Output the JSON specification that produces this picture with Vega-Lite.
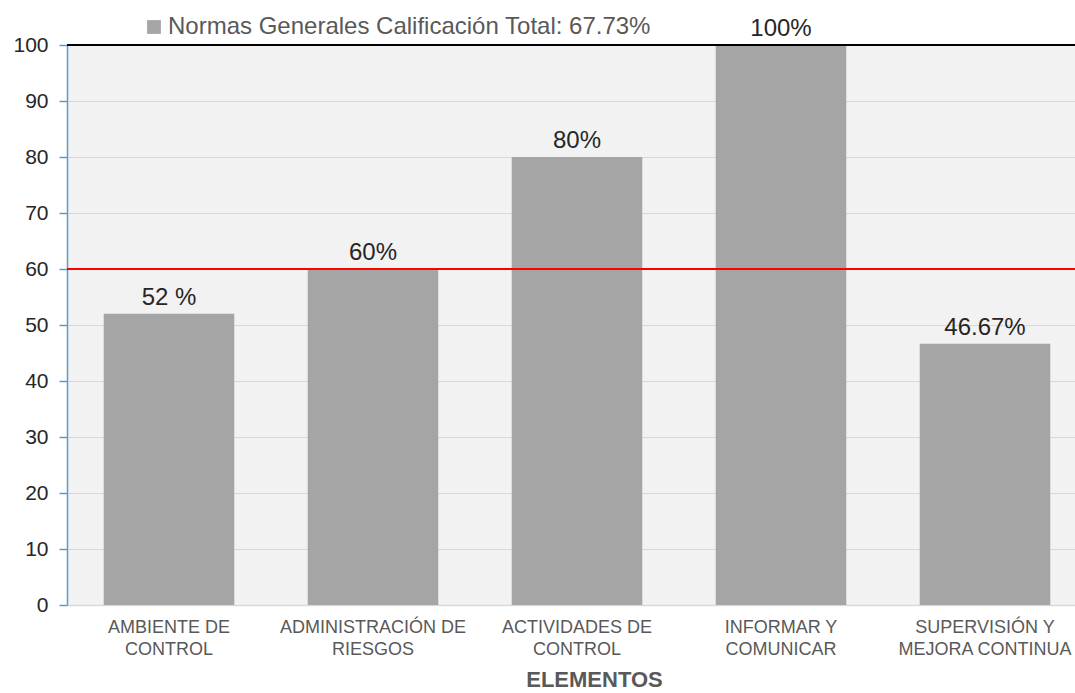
{
  "$schema": "https://vega.github.io/schema/vega-lite/v6.json",
  "width": 1020,
  "height": 560,
  "autosize": {"type": "none"},
  "padding": {"left": 67, "top": 45, "right": 0, "bottom": 88},
  "background": "white",
  "config": {
    "font": "Liberation Sans",
    "view": {"fill": "#f2f2f2", "stroke": null}
  },
  "data": {
    "values": [
      {"elemento": "AMBIENTE DE|CONTROL", "valor": 52, "etiqueta": "52 %", "serie": "Normas Generales Calificación Total: 67.73%"},
      {"elemento": "ADMINISTRACIÓN DE|RIESGOS", "valor": 60, "etiqueta": "60%", "serie": "Normas Generales Calificación Total: 67.73%"},
      {"elemento": "ACTIVIDADES DE|CONTROL", "valor": 80, "etiqueta": "80%", "serie": "Normas Generales Calificación Total: 67.73%"},
      {"elemento": "INFORMAR Y|COMUNICAR", "valor": 100, "etiqueta": "100%", "serie": "Normas Generales Calificación Total: 67.73%"},
      {"elemento": "SUPERVISIÓN Y|MEJORA CONTINUA", "valor": 46.67, "etiqueta": "46.67%", "serie": "Normas Generales Calificación Total: 67.73%"}
    ]
  },
  "encoding": {
    "x": {
      "field": "elemento",
      "type": "nominal",
      "sort": null,
      "scale": {"paddingInner": 0.36, "paddingOuter": 0.18},
      "axis": {
        "title": "ELEMENTOS",
        "titleFontSize": 22,
        "titleFontWeight": "bold",
        "titleColor": "#595959",
        "titlePadding": 11,
        "titleX": 527,
        "labelAngle": 0,
        "labelExpr": "split(datum.label, '|')",
        "labelFontSize": 18,
        "labelColor": "#595959",
        "labelLineHeight": 22,
        "labelPadding": 13,
        "labelLimit": 0,
        "ticks": false,
        "domainColor": "#d9d9d9",
        "domainWidth": 1.5
      }
    }
  },
  "layer": [
    {
      "mark": {"type": "bar", "color": "#a5a5a5"},
      "encoding": {
        "y": {
          "field": "valor",
          "type": "quantitative",
          "scale": {"domain": [0, 100]},
          "axis": {
            "title": null,
            "values": [0, 10, 20, 30, 40, 50, 60, 70, 80, 90, 100],
            "grid": true,
            "gridColor": "#d9d9d9",
            "gridWidth": 1.2,
            "domainColor": "#5b9bd5",
            "domainWidth": 1.5,
            "tickColor": "#5b9bd5",
            "tickSize": 8,
            "tickWidth": 1.5,
            "labelFontSize": 21,
            "labelColor": "#262626",
            "labelPadding": 11
          }
        },
        "color": {
          "field": "serie",
          "type": "nominal",
          "scale": {"range": ["#a5a5a5"]},
          "legend": {
            "title": null,
            "orient": "none",
            "legendX": 75,
            "legendY": -30,
            "symbolType": "square",
            "symbolSize": 190,
            "symbolStrokeWidth": 0,
            "labelFontSize": 24,
            "labelColor": "#595959",
            "labelOffset": 2,
            "labelLimit": 0
          }
        }
      }
    },
    {
      "mark": {"type": "text", "baseline": "alphabetic", "dy": -9, "fontSize": 24, "color": "#262626"},
      "encoding": {
        "y": {"field": "valor", "type": "quantitative"},
        "text": {"field": "etiqueta"}
      }
    },
    {
      "mark": {"type": "rule", "color": "#ff0000", "strokeWidth": 1.5},
      "encoding": {"y": {"datum": 60}, "x": {"value": 0}, "x2": {"value": 1020}}
    },
    {
      "mark": {"type": "rule", "color": "#000000", "strokeWidth": 1.5},
      "encoding": {"y": {"datum": 100}, "x": {"value": 0}, "x2": {"value": 1020}}
    }
  ]
}
